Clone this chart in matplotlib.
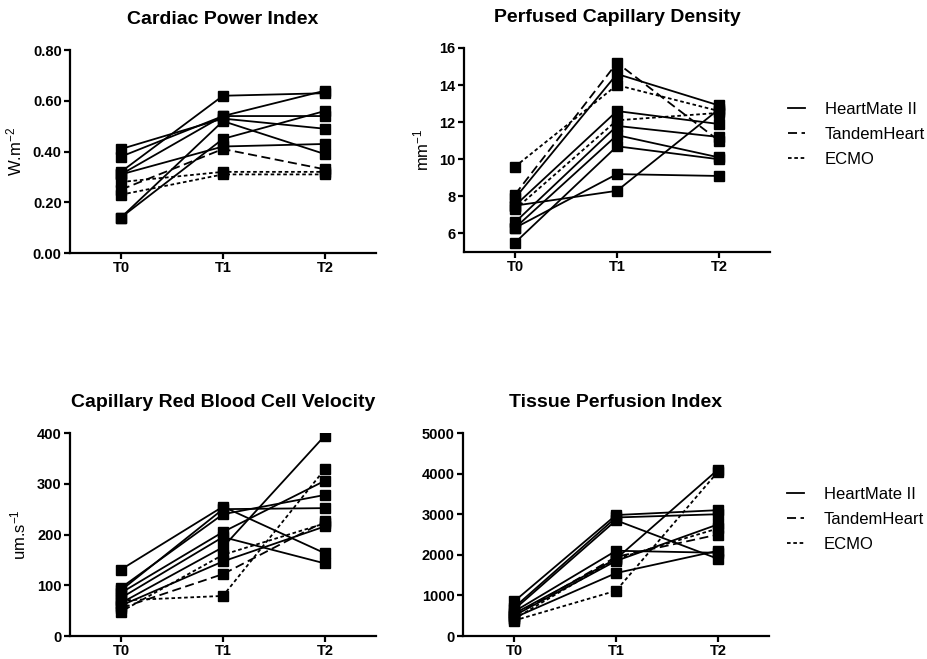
import matplotlib
matplotlib.use("Agg")
import matplotlib.pyplot as plt
from matplotlib.lines import Line2D

plt.rcParams['font.family'] = ['Liberation Sans', 'DejaVu Sans']
plt.rcParams['mathtext.default'] = 'regular'

times = ["T0", "T1", "T2"]

# device of each patient (same order in every panel)
device = ["HM", "HM", "HM", "HM", "HM", "HM", "HM", "TH", "EC", "EC"]

# Cardiac Power Index
cpi_t0 = [0.41, 0.38, 0.32, 0.31, 0.31, 0.14, 0.14, 0.25, 0.28, 0.23]
cpi_t1 = [0.53, 0.54, 0.62, 0.54, 0.42, 0.52, 0.45, 0.41, 0.32, 0.31]
cpi_t2 = [0.49, 0.54, 0.63, 0.64, 0.43, 0.39, 0.56, 0.33, 0.32, 0.31]

# Perfused Capillary Density
pcd_t0 = [7.9, 7.5, 7.5, 6.6, 6.3, 5.5, 6.3, 8.1, 9.6, 7.3]
pcd_t1 = [14.6, 8.3, 12.6, 11.8, 11.3, 10.7, 9.2, 15.2, 14.0, 12.1]
pcd_t2 = [12.9, 12.7, 11.9, 11.2, 10.1, 10.0, 9.1, 11.0, 12.6, 12.5]

# Capillary Red Blood Cell Velocity
rbc_t0 = [131, 95, 90, 85, 75, 65, 60, 55, 70, 48]
rbc_t1 = [255, 240, 250, 205, 195, 175, 147, 122, 79, 160]
rbc_t2 = [163, 278, 252, 306, 143, 395, 216, 226, 329, 222]

# Tissue Perfusion Index
tpi_t0 = [850, 700, 650, 600, 550, 500, 450, 500, 380, 420]
tpi_t1 = [2980, 2920, 2850, 2100, 1900, 1850, 1550, 1950, 1115, 1900]
tpi_t2 = [3100, 3000, 1900, 2050, 4100, 2750, 2100, 2500, 4050, 2650]

styles = {"HM": "-", "TH": (0, (5, 2.5)), "EC": (0, (2, 1.5))}
labels = {"HM": "HeartMate II", "TH": "TandemHeart", "EC": "ECMO"}

fig = plt.figure(figsize=(9.28, 6.59), dpi=100)

panels = [
    ([0.0754, 0.616, 0.3297, 0.308], "Cardiac Power Index", "W.m$^{-2}$",
     cpi_t0, cpi_t1, cpi_t2, (0, 0.8), [0, 0.2, 0.4, 0.6, 0.8], "{:.2f}", False),
    ([0.5, 0.6176, 0.3297, 0.3096], "Perfused Capillary Density", "mm$^{-1}$",
     pcd_t0, pcd_t1, pcd_t2, (5, 16), [6, 8, 10, 12, 14, 16], "{:.0f}", True),
    ([0.0754, 0.0349, 0.3297, 0.308], "Capillary Red Blood Cell Velocity", "um.s$^{-1}$",
     rbc_t0, rbc_t1, rbc_t2, (0, 400), [0, 100, 200, 300, 400], "{:.0f}", False),
    ([0.499, 0.0349, 0.3297, 0.308], "Tissue Perfusion Index", "",
     tpi_t0, tpi_t1, tpi_t2, (0, 5000), [0, 1000, 2000, 3000, 4000, 5000], "{:.0f}", True),
]

for rect, title, ylab, a, b, c, ylim, yt, fmt, leg in panels:
    ax = fig.add_axes(rect)
    for i in range(len(a)):
        ax.plot([0, 1, 2], [a[i], b[i], c[i]], color="black",
                linestyle=styles[device[i]], linewidth=1.3,
                marker="s", markersize=7)
    ax.set_xlim(-0.5, 2.5)
    ax.set_ylim(*ylim)
    ax.set_xticks([0, 1, 2])
    ax.set_xticklabels(times, fontweight="bold", fontsize=10.5)
    ax.set_yticks(yt)
    ax.set_yticklabels([fmt.format(v) for v in yt], fontweight="bold", fontsize=10.5)
    ax.spines["top"].set_visible(False)
    ax.spines["right"].set_visible(False)
    ax.spines["left"].set_linewidth(1.6)
    ax.spines["bottom"].set_linewidth(1.6)
    ax.tick_params(width=1.6, length=4, direction="out", pad=2)
    ax.set_title(title, fontweight="bold", fontsize=14, pad=19)
    if ylab:
        ax.set_ylabel(ylab, fontsize=12, labelpad=6)
    if leg:
        handles = [Line2D([], [], color="black", linestyle=styles[k], linewidth=1.3)
                   for k in ["HM", "TH", "EC"]]
        ax.legend(handles, [labels[k] for k in ["HM", "TH", "EC"]],
                  loc="upper left", bbox_to_anchor=(1.06, 0.735), frameon=False,
                  fontsize=12, handlelength=1.0, handletextpad=1.2,
                  labelspacing=0.6, borderpad=0, borderaxespad=0)

fig.savefig("out.png", dpi=100)
